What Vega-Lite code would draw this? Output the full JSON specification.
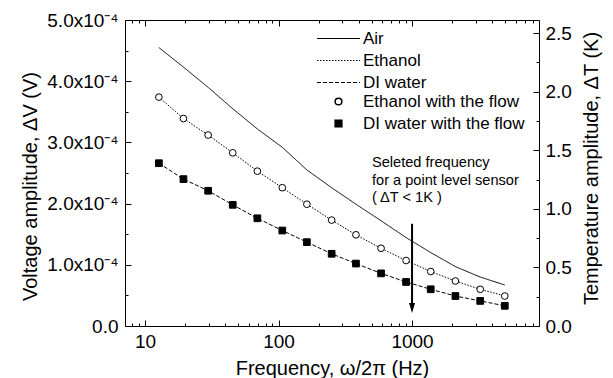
{
  "$schema": "https://vega.github.io/schema/vega-lite/v6.json",
  "width": 414,
  "height": 306,
  "autosize": {"type": "none"},
  "padding": {"left": 125, "top": 20, "right": 74, "bottom": 52},
  "background": "white",
  "config": {
    "font": "Liberation Sans",
    "view": {"stroke": null},
    "axis": {
      "grid": false,
      "domainColor": "black",
      "labelColor": "black",
      "titleColor": "black",
      "labelFont": "Liberation Sans",
      "titleFont": "Liberation Sans",
      "labelFontSize": 19,
      "titleFontSize": 20,
      "titleFontWeight": "normal"
    },
    "legend": {
      "labelFont": "Liberation Sans",
      "labelFontSize": 17,
      "labelColor": "black",
      "labelLimit": 400
    }
  },
  "data": {
    "values": [
      {"f": 12.7, "Air": 4.55e-4, "Ethanol": 3.74e-4, "DI water": 2.66e-4, "Ethanol with the flow": 3.74e-4, "DI water with the flow": 2.66e-4},
      {"f": 19.4, "Air": 4.23e-4, "Ethanol": 3.39e-4, "DI water": 2.40e-4, "Ethanol with the flow": 3.39e-4, "DI water with the flow": 2.40e-4},
      {"f": 29.7, "Air": 3.90e-4, "Ethanol": 3.12e-4, "DI water": 2.21e-4, "Ethanol with the flow": 3.12e-4, "DI water with the flow": 2.21e-4},
      {"f": 45.4, "Air": 3.55e-4, "Ethanol": 2.83e-4, "DI water": 1.98e-4, "Ethanol with the flow": 2.83e-4, "DI water with the flow": 1.98e-4},
      {"f": 69.4, "Air": 3.22e-4, "Ethanol": 2.53e-4, "DI water": 1.76e-4, "Ethanol with the flow": 2.53e-4, "DI water with the flow": 1.76e-4},
      {"f": 106.7, "Air": 2.92e-4, "Ethanol": 2.26e-4, "DI water": 1.56e-4, "Ethanol with the flow": 2.26e-4, "DI water with the flow": 1.56e-4},
      {"f": 163, "Air": 2.55e-4, "Ethanol": 1.99e-4, "DI water": 1.37e-4, "Ethanol with the flow": 1.99e-4, "DI water with the flow": 1.37e-4},
      {"f": 250, "Air": 2.26e-4, "Ethanol": 1.73e-4, "DI water": 1.18e-4, "Ethanol with the flow": 1.73e-4, "DI water with the flow": 1.18e-4},
      {"f": 380, "Air": 1.99e-4, "Ethanol": 1.49e-4, "DI water": 1.02e-4, "Ethanol with the flow": 1.49e-4, "DI water with the flow": 1.02e-4},
      {"f": 586, "Air": 1.72e-4, "Ethanol": 1.27e-4, "DI water": 0.86e-4, "Ethanol with the flow": 1.27e-4, "DI water with the flow": 0.86e-4},
      {"f": 902, "Air": 1.445e-4, "Ethanol": 1.07e-4, "DI water": 0.72e-4, "Ethanol with the flow": 1.07e-4, "DI water with the flow": 0.72e-4},
      {"f": 1380, "Air": 1.20e-4, "Ethanol": 0.89e-4, "DI water": 0.60e-4, "Ethanol with the flow": 0.89e-4, "DI water with the flow": 0.60e-4},
      {"f": 2113, "Air": 0.97e-4, "Ethanol": 0.735e-4, "DI water": 0.49e-4, "Ethanol with the flow": 0.735e-4, "DI water with the flow": 0.49e-4},
      {"f": 3240, "Air": 0.80e-4, "Ethanol": 0.60e-4, "DI water": 0.41e-4, "Ethanol with the flow": 0.60e-4, "DI water with the flow": 0.41e-4},
      {"f": 4950, "Air": 0.67e-4, "Ethanol": 0.49e-4, "DI water": 0.33e-4, "Ethanol with the flow": 0.49e-4, "DI water with the flow": 0.33e-4}
    ]
  },
  "layer": [
    {
      "encoding": {
        "x": {
          "field": "f",
          "type": "quantitative",
          "scale": {"type": "log", "domain": [7.08, 8930], "nice": false},
          "axis": {
            "orient": "bottom",
            "title": "Frequency, ω/2π (Hz)",
            "values": [8, 9, 10, 20, 30, 40, 50, 60, 70, 80, 90, 100, 200, 300, 400, 500, 600, 700, 800, 900, 1000, 2000, 3000, 4000, 5000, 6000, 7000, 8000],
            "labelExpr": "datum.value == 10 || datum.value == 100 || datum.value == 1000 ? format(datum.value, 'd') : ''",
            "ticks": true,
            "tickColor": "black",
            "tickWidth": 1,
            "tickSize": {"condition": {"test": "datum.value == 10 || datum.value == 100 || datum.value == 1000", "value": -6}, "value": -3},
            "labelPadding": 12,
            "labelFlush": false,
            "labelOverlap": false,
            "titlePadding": 4
          }
        },
        "y": {
          "field": "v",
          "type": "quantitative",
          "scale": {"domain": [0, 0.0005], "nice": false},
          "axis": {
            "orient": "left",
            "title": "Voltage amplitude, ΔV (V)",
            "titleY": 166,
            "values": [0, 0.00005, 0.0001, 0.00015, 0.0002, 0.00025, 0.0003, 0.00035, 0.0004, 0.00045, 0.0005],
            "labelExpr": "datum.value == 0 ? '0.0' : (round(datum.value * 1e5) % 2 == 0 ? format(datum.value * 1e4, '.1f') + 'x10⁻⁴' : '')",
            "ticks": true,
            "tickColor": "black",
            "tickWidth": 1,
            "tickSize": {"condition": {"test": "round(datum.value * 1e5) % 2 == 0", "value": -6}, "value": -3},
            "labelPadding": 13,
            "labelFlush": false,
            "labelOverlap": false,
            "titlePadding": 6
          }
        }
      },
      "layer": [
        {
          "transform": [{"fold": ["Air", "Ethanol", "DI water"], "as": ["series", "v"]}],
          "mark": {"type": "line", "color": "black", "strokeWidth": 1},
          "encoding": {
            "detail": {"field": "series"},
            "strokeDash": {
              "field": "series",
              "type": "nominal",
              "scale": {"domain": ["Air", "Ethanol", "DI water"], "range": [[1, 0], [1.5, 1.5], [4, 2]]},
              "legend": {
                "orient": "none",
                "legendX": 205,
                "legendY": 10,
                "title": null,
                "symbolType": "M-5,0H5",
                "symbolSize": 74,
                "symbolStrokeColor": "black",
                "symbolStrokeWidth": 1,
                "labelOffset": 16,
                "rowPadding": 4
              }
            }
          }
        },
        {
          "transform": [{"fold": ["Ethanol with the flow", "DI water with the flow"], "as": ["series", "v"]}],
          "mark": {"type": "point", "filled": true, "stroke": "black", "strokeWidth": 1, "size": 45, "opacity": 1},
          "encoding": {
            "shape": {
              "field": "series",
              "type": "nominal",
              "scale": {"domain": ["Ethanol with the flow", "DI water with the flow"], "range": ["circle", "square"]},
              "legend": {
                "orient": "none",
                "legendX": 205,
                "legendY": 73,
                "title": null,
                "symbolSize": 45,
                "labelOffset": 16,
                "rowPadding": 4,
                "encode": {"symbols": {"update": {"stroke": {"value": "black"}, "strokeWidth": {"value": 1}, "opacity": {"value": 1}}}}
              }
            },
            "fill": {
              "field": "series",
              "type": "nominal",
              "scale": {"domain": ["Ethanol with the flow", "DI water with the flow"], "range": ["white", "black"]},
              "legend": {
                "orient": "none",
                "legendX": 205,
                "legendY": 73,
                "title": null,
                "symbolSize": 45,
                "labelOffset": 16,
                "rowPadding": 4,
                "encode": {"symbols": {"update": {"stroke": {"value": "black"}, "strokeWidth": {"value": 1}, "opacity": {"value": 1}}}}
              }
            }
          }
        },
        {
          "data": {"values": [{"f": 1000, "v": 0.000167, "v2": 0.000035}]},
          "mark": {"type": "rule", "color": "black", "strokeWidth": 2},
          "encoding": {"y2": {"field": "v2"}}
        },
        {
          "data": {"values": [{"f": 1000, "v": 0.0000294}]},
          "mark": {"type": "point", "shape": "M-0.6,-1L0.6,-1L0,1Z", "size": 100, "filled": true, "color": "black", "opacity": 1}
        },
        {
          "data": {"values": [
            {"f": 501, "v": 0.000266, "label": "Seleted frequency"},
            {"f": 501, "v": 0.000237, "label": "for a point level sensor"},
            {"f": 501, "v": 0.000209, "label": "( ΔT < 1K )"}
          ]},
          "mark": {"type": "text", "align": "left", "baseline": "middle", "fontSize": 14.6, "font": "Liberation Sans", "color": "black"},
          "encoding": {"text": {"field": "label"}}
        }
      ]
    },
    {
      "data": {"values": [{"f": 10, "t": 0}]},
      "mark": {"type": "point", "opacity": 0},
      "encoding": {
        "x": {
          "field": "f",
          "type": "quantitative",
          "scale": {"type": "log", "domain": [7.08, 8930], "nice": false},
          "axis": {
            "orient": "top",
            "title": null,
            "values": [8, 9, 10, 20, 30, 40, 50, 60, 70, 80, 90, 100, 200, 300, 400, 500, 600, 700, 800, 900, 1000, 2000, 3000, 4000, 5000, 6000, 7000, 8000],
            "labels": false,
            "ticks": true,
            "tickColor": "black",
            "tickWidth": 1,
            "tickSize": {"condition": {"test": "datum.value == 10 || datum.value == 100 || datum.value == 1000", "value": -6}, "value": -3}
          }
        },
        "y": {
          "field": "t",
          "type": "quantitative",
          "scale": {"domain": [0, 2.611], "nice": false},
          "axis": {
            "orient": "right",
            "title": "Temperature amplitude, ΔT (K)",
            "titleAngle": 270,
            "titleBaseline": "top",
            "titleY": 148,
            "values": [0, 0.25, 0.5, 0.75, 1, 1.25, 1.5, 1.75, 2, 2.25, 2.5],
            "labelExpr": "round(datum.value * 4) % 2 == 0 ? format(datum.value, '.1f') : ''",
            "ticks": true,
            "tickColor": "black",
            "tickWidth": 1,
            "tickSize": {"condition": {"test": "round(datum.value * 4) % 2 == 0", "value": -6}, "value": -3},
            "labelPadding": 12,
            "labelFlush": false,
            "labelOverlap": false,
            "titlePadding": 10
          }
        }
      }
    }
  ],
  "resolve": {"scale": {"y": "independent"}, "axis": {"x": "independent", "y": "independent"}}
}
